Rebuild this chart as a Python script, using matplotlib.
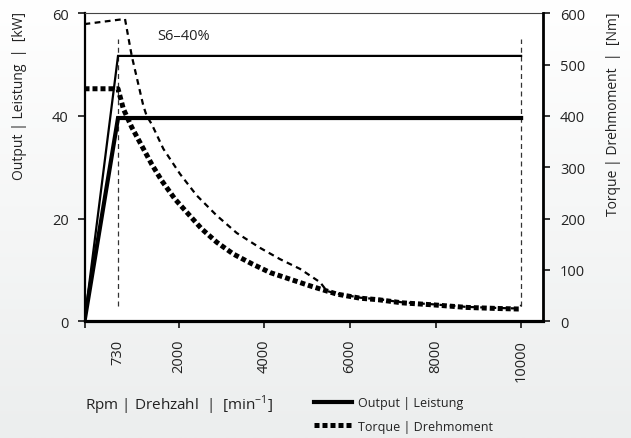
import numpy as np
import matplotlib
matplotlib.use("Agg")
import matplotlib.pyplot as plt
from matplotlib.lines import Line2D

plt.rcParams['font.family'] = ['Open Sans', 'DejaVu Sans']
TXT = '#222222'

# ---------------- data ----------------
rpm_power = [0, 730, 10000]
power_s6 = [0, 51.7, 51.7]          # kW, thin solid (S6-40%)
power_s1 = [0, 39.6, 39.6]          # kW, thick solid

rpm_torque_s6 = [0, 876, 1017, 1259, 1330, 1435, 1678, 2030, 2421, 2888, 3356,
                 3901, 4368, 4836, 5304, 5461, 5694, 6240, 6668, 7215, 7954,
                 8735, 9436, 9904, 10000]
torque_s6 = [579, 589, 517, 420, 400, 384, 336, 287, 245, 206, 172,
             143, 121, 102, 76, 59, 54, 46, 43, 37, 33,
             28, 26, 25, 31]          # Nm, thin dashed

rpm_torque_s1 = [0, 730, 841, 1017, 1226, 1435, 1644, 1922, 2224, 2537, 2888,
                 3277, 3709, 4134, 4602, 5070, 5694, 6240, 6668, 7215, 7954,
                 8735, 9436, 9904, 10000]
torque_s1 = [453, 453, 414, 378, 342, 306, 274, 238, 209, 180, 154,
             131, 112, 95, 82, 69, 53, 45, 42, 36, 32,
             27, 25, 24, 24]          # Nm, thick dotted

marker_rpm = [730, 10000]
marker_kw = [3, 55]

x_ticks = [0, 2000, 4000, 6000, 8000, 10000]
x_ticklabels = ['', '2000', '4000', '6000', '8000', '10000']
y_ticks_kw = [0, 20, 40, 60]
y_ticks_nm = [0, 100, 200, 300, 400, 500, 600]

# axis scale of the original drawing (piecewise linear)
scale_rpm = [-100000, 0, 730, 2000, 100000]
scale_pos = [-4589.0, 0.0, 33.5, 94.2, 94.2 + 98000 * 0.042775]


def fwd(x):
    return np.interp(x, scale_rpm, scale_pos)


def inv(p):
    return np.interp(p, scale_pos, scale_rpm)


# ---------------- figure ----------------
W, H = 631, 439
fig = plt.figure(figsize=(W / 100, H / 100), dpi=100)

bg = fig.add_axes([0, 0, 1, 1])
bg.set_zorder(-10)
grad = np.linspace(0, 1, 256).reshape(-1, 1)
cmap = matplotlib.colors.LinearSegmentedColormap.from_list('g', ['#ffffff', '#eceeee'])
bg.imshow(grad, aspect='auto', cmap=cmap, extent=[0, 1, 0, 1], origin='upper')
bg.set_axis_off()

left, right = 84.5, 542.5
top, bottom = 14.3, 322.3
ax = fig.add_axes([left / W, 1 - bottom / H, (right - left) / W, (bottom - top) / H])
ax.set_facecolor('white')
ax.set_xscale('function', functions=(fwd, inv))
ax.set_xlim(0, 10500)
ax.set_ylim(0, 60)

ax2 = ax.twinx()
ax2.set_ylim(0, 600)

# power
ax.plot(rpm_power, power_s6, color='black', lw=1.6, solid_joinstyle='miter', zorder=3)
ax.plot(rpm_power, power_s1, color='black', lw=3.0, solid_joinstyle='miter', zorder=3)
# markers (vertical dashed)
for r in marker_rpm:
    ax.plot([r, r], marker_kw, color='#333333', lw=0.9, dashes=(4, 3), zorder=2)
ax.text(1550, 55.6, 'S6–40%', ha='left', va='center', fontsize=10.5, color=TXT)

# torque
ax2.plot(rpm_torque_s6, torque_s6, color='black', lw=1.6, dashes=(2.6, 2.0),
         dash_capstyle='butt', zorder=3)
ax2.plot(rpm_torque_s1, torque_s1, color='black', lw=3.6, dashes=(1.0, 0.6),
         dash_capstyle='butt', zorder=3)

# spines
for s in ['left', 'bottom', 'top', 'right']:
    ax2.spines[s].set_visible(s == 'right')
ax.spines['right'].set_visible(False)
ax.spines['left'].set_linewidth(1.6)
ax.spines['bottom'].set_linewidth(2.3)
ax.spines['top'].set_linewidth(0.8)
ax.spines['top'].set_color('#444444')
ax2.spines['right'].set_linewidth(2.0)

# ticks
ax.set_xticks(x_ticks)
ax.set_xticklabels(x_ticklabels, rotation=90)
ax.set_xticks([730], minor=True)
ax.set_xticklabels(['730'], minor=True, rotation=90)
ax.tick_params(axis='x', which='major', direction='out', length=5, width=1.1,
               pad=7.5, labelsize=10.5, labelcolor=TXT)
ax.tick_params(axis='x', which='minor', length=0, pad=13, labelsize=10.5, labelcolor=TXT)
ax.set_yticks(y_ticks_kw)
ax.tick_params(axis='y', direction='out', length=5, width=1.1, pad=6.5,
               labelsize=10.5, labelcolor=TXT)
ax2.set_yticks(y_ticks_nm)
ax2.tick_params(axis='y', direction='out', length=5, width=1.1, pad=7.5,
                labelsize=10.5, labelcolor=TXT)

# axis titles
fig.text(20 / W, 1 - 12 / H, 'Output | Leistung  |  [kW]', rotation=90,
         ha='center', va='top', fontsize=10, color=TXT)
fig.text(613.5 / W, 1 - 12 / H, 'Torque | Drehmoment  |  [Nm]', rotation=90,
         ha='center', va='top', fontsize=10, color=TXT)
fig.text(85 / W, 1 - 405 / H, r'Rpm | Drehzahl  |  [min$^{\mathregular{-1}}$]',
         ha='left', va='center', fontsize=11, color=TXT)

# legend
handles = [Line2D([], [], color='black', lw=3.0),
           Line2D([], [], color='black', lw=3.6, dashes=(1.0, 0.6), dash_capstyle='butt')]
fig.legend(handles, ['Output | Leistung', 'Torque | Drehmoment'],
           loc='center left', bbox_to_anchor=(314 / W, 1 - 415.5 / H),
           frameon=False, fontsize=9, handlelength=3.0, handletextpad=0.55,
           borderpad=0, borderaxespad=0, labelspacing=0.85, labelcolor=TXT)

fig.savefig('out.png', dpi=100)
